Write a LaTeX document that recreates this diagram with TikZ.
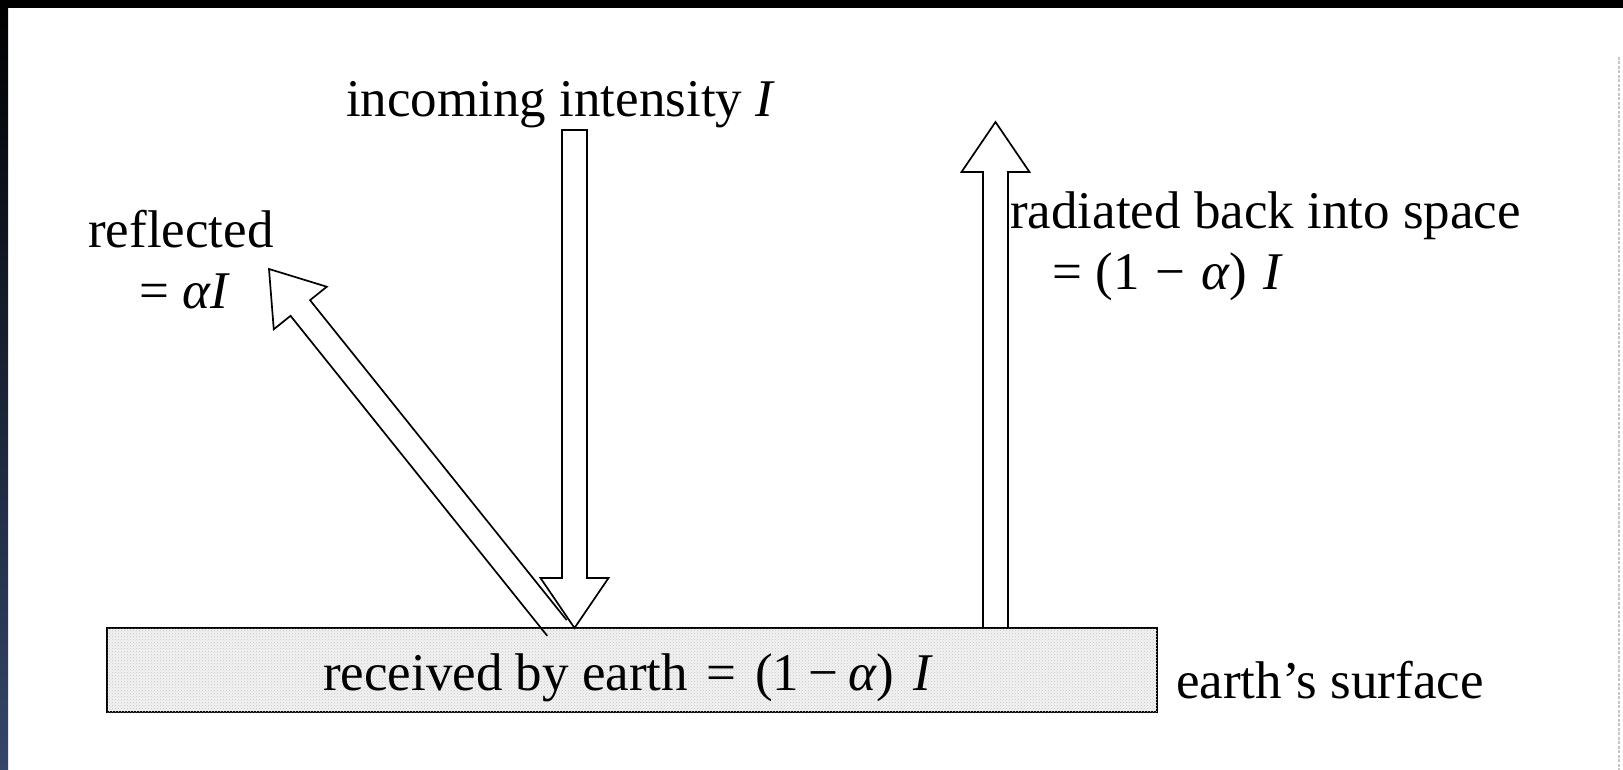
\documentclass[tikz,border=0pt]{standalone}
\usepackage{fontspec}
\setmainfont{Liberation Serif}
\usetikzlibrary{calc,patterns}
\tikzset{
  lbl/.style={anchor=base west, inner sep=0pt, font=\fontsize{53}{60}\selectfont},
  hollow/.style={draw=black, line width=1.7pt, line join=miter},
  ground/.style={draw=black, line width=2.4pt, fill=gray!10, inner sep=0pt,
    postaction={pattern=crosshatch dots, pattern color=gray!45}},
  edgeline/.style={draw=gray!45, line width=1.4pt, dash pattern=on 3pt off 1.5pt},
}
\newcommand\hollowarrow[3]{%
  \path ($(#2)!50pt!(#1)$) coordinate (hb);
  \draw[hollow] ($(#1)!12.5pt!90:(#2)$) -- ($(hb)!12.5pt!90:(#2)$)
    -- ($(hb)!34pt!90:(#2)$) -- (#2) -- ($(hb)!34pt!-90:(#2)$)
    -- ($(hb)!12.5pt!-90:(#2)$) -- ($(#1)!12.5pt!-90:(#2)$) #3;
}
\newcommand\msp[1]{\hspace{#1em}}
\begin{document}
\begin{tikzpicture}[x=1pt,y=-1pt]
  \useasboundingbox (0,0) rectangle (1623,770);
  \fill[white] (0,0) rectangle (1623,770);
  % frame remnants
  \fill[black] (0,0) rectangle (1623,8);
  \shade[top color=black, bottom color={rgb,255:red,52;green,70;blue,106}] (0,0) rectangle (8,770);
  \draw[edgeline] (1619,57) -- (1619,770);

  % earth's surface block
  \node[ground, minimum width=1050pt, minimum height=84pt] (earth) at (632,670) {};

  % arrow end points
  \coordinate (inTop)  at (574.5,130);
  \coordinate (inTip)  at (574.5,628);
  \coordinate (upBase) at (995.5,628);
  \coordinate (upTip)  at (995.5,122);
  \coordinate (rfBase) at (557,628);
  \coordinate (rfTip)  at (269,269);

  \hollowarrow{rfBase}{rfTip}{}
  \hollowarrow{inTop}{inTip}{-- cycle}
  \hollowarrow{upBase}{upTip}{}

  % labels
  \node[lbl] (tin)   at (346,117)  {incoming intensity \textit{I}};
  \node[lbl] (trefl) at (88,248)   {reflected};
  \node[lbl] (treflv) at (139,308) {= \textit{αI}};
  \node[lbl] (trad)  at (1010,229) {radiated back into space};
  \node[lbl] (tradv) at (1052,289) {= (1\msp{0.3}−\msp{0.3}\textit{α})\msp{0.3}\textit{I}};
  \node[lbl] (trec)  at (323,690)  {received by earth\msp{0.35}=\msp{0.35}(1\msp{0.18}−\msp{0.18}\textit{α})\msp{0.35}\textit{I}};
  \node[lbl] (tsurf) at (1176,698) {earth’s surface};
\end{tikzpicture}
\end{document}
